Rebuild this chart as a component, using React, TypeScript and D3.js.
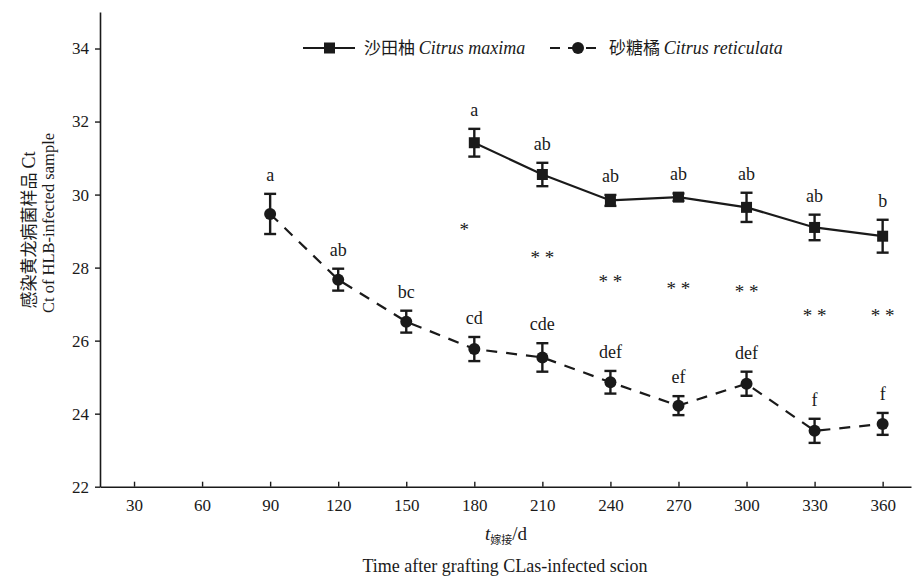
import React, { useEffect, useRef } from 'react';
import * as d3 from 'd3';

// days after grafting
const daysPomelo = [180, 210, 240, 270, 300, 330, 360];
const ctPomelo = [31.42, 30.55, 29.84, 29.93, 29.65, 29.1, 28.86];
const errPomelo = [0.38, 0.32, 0.15, 0.1, 0.4, 0.35, 0.45];
const letPomelo = ['a', 'ab', 'ab', 'ab', 'ab', 'ab', 'b'];

const daysMandarin = [90, 120, 150, 180, 210, 240, 270, 300, 330, 360];
const ctMandarin = [29.47, 27.67, 26.52, 25.77, 25.54, 24.86, 24.22, 24.82, 23.53, 23.72];
const errMandarin = [0.55, 0.3, 0.3, 0.33, 0.39, 0.31, 0.26, 0.33, 0.33, 0.3];
const letMandarin = ['a', 'ab', 'bc', 'cd', 'cde', 'def', 'ef', 'def', 'f', 'f'];

// significance marks between the two species
const starDays = [180, 210, 240, 270, 300, 330, 360];
const starMarks = ['*', '* *', '* *', '* *', '* *', '* *', '* *'];
const starCt = [29.14, 28.37, 27.72, 27.53, 27.44, 26.79, 26.79];

const xTicks = [30, 60, 90, 120, 150, 180, 210, 240, 270, 300, 330, 360];
const yTicks = [22, 24, 26, 28, 30, 32, 34];

const SERIF = '"Liberation Serif", "Times New Roman", serif';
const CJK = '"Noto Sans CJK SC", sans-serif';
const INK = '#1a1a1a';

export default function App() {
  const ref = useRef<SVGSVGElement | null>(null);

  useEffect(() => {
    const svg = d3.select(ref.current);
    svg.selectAll('*').remove();

    const x = d3.scaleLinear().domain([15, 372.5]).range([100, 911]);
    const y = d3.scaleLinear().domain([22, 35]).range([486.7, 12]);

    // axes
    const xAxis = svg
      .append('g')
      .attr('transform', `translate(0,${y(22)})`)
      .call(d3.axisBottom(x).tickValues(xTicks).tickSizeInner(-5).tickSizeOuter(0).tickPadding(12));
    xAxis.select('.domain').attr('stroke', INK).attr('stroke-width', 1.6);
    xAxis.selectAll('.tick line').attr('stroke', INK).attr('stroke-width', 1.4);
    xAxis.selectAll('.tick text').style('font-family', SERIF).style('font-size', '17px').attr('fill', INK);

    const yAxis = svg
      .append('g')
      .attr('transform', `translate(${x(15)},0)`)
      .call(d3.axisLeft(y).tickValues(yTicks).tickSizeInner(5).tickSizeOuter(0).tickPadding(6));
    yAxis.select('.domain').attr('stroke', INK).attr('stroke-width', 1.6);
    yAxis.selectAll('.tick line').attr('stroke', INK).attr('stroke-width', 1.4);
    yAxis.selectAll('.tick text').style('font-family', SERIF).style('font-size', '17px').attr('fill', INK);

    const drawSeries = (
      days: number[],
      vals: number[],
      errs: number[],
      letters: string[],
      dashed: boolean,
      square: boolean
    ) => {
      const g = svg.append('g');
      const line = d3
        .line<number>()
        .x((d, i) => x(days[i]))
        .y((d) => y(d));
      g.append('path')
        .datum(vals)
        .attr('d', line)
        .attr('fill', 'none')
        .attr('stroke', INK)
        .attr('stroke-width', 2.2)
        .attr('stroke-dasharray', dashed ? '11,9' : null);

      const cap = 6;
      vals.forEach((v, i) => {
        const cx = x(days[i]);
        const top = y(v + errs[i]);
        const bot = y(v - errs[i]);
        g.append('line').attr('x1', cx).attr('x2', cx).attr('y1', top).attr('y2', bot)
          .attr('stroke', INK).attr('stroke-width', 2.4);
        [top, bot].forEach((yy) =>
          g.append('line').attr('x1', cx - cap).attr('x2', cx + cap).attr('y1', yy).attr('y2', yy)
            .attr('stroke', INK).attr('stroke-width', 2.4)
        );
        if (square) {
          g.append('rect').attr('x', cx - 5.5).attr('y', y(v) - 5.5).attr('width', 11).attr('height', 11)
            .attr('fill', INK);
        } else {
          g.append('circle').attr('cx', cx).attr('cy', y(v)).attr('r', 6).attr('fill', INK);
        }
        g.append('text')
          .attr('x', cx)
          .attr('y', top - 13)
          .attr('text-anchor', 'middle')
          .style('font-family', SERIF)
          .style('font-size', '18px')
          .attr('fill', INK)
          .text(letters[i]);
      });
    };

    drawSeries(daysPomelo, ctPomelo, errPomelo, letPomelo, false, true);
    drawSeries(daysMandarin, ctMandarin, errMandarin, letMandarin, true, false);

    svg
      .append('g')
      .selectAll('text')
      .data(starDays)
      .join('text')
      .attr('x', (d, i) => x(d) + (starMarks[i] === '*' ? -10 : 0))
      .attr('y', (d, i) => y(starCt[i]) + 10)
      .attr('text-anchor', 'middle')
      .style('font-family', SERIF)
      .style('font-size', '19px')
      .style('white-space', 'pre')
      .attr('fill', INK)
      .text((d, i) => starMarks[i]);

    // legend
    const lg = svg.append('g');
    lg.append('line').attr('x1', 303).attr('x2', 355).attr('y1', 48).attr('y2', 48)
      .attr('stroke', INK).attr('stroke-width', 2.2);
    lg.append('rect').attr('x', 324).attr('y', 42.5).attr('width', 11).attr('height', 11).attr('fill', INK);
    const t1 = lg.append('text').attr('x', 364).attr('y', 54).style('font-size', '17px').attr('fill', INK);
    t1.append('tspan').style('font-family', CJK).text('沙田柚 ');
    t1.append('tspan').style('font-family', SERIF).style('font-style', 'italic').style('font-size', '18px').text('Citrus maxima');

    lg.append('line').attr('x1', 550).attr('x2', 602).attr('y1', 48).attr('y2', 48)
      .attr('stroke', INK).attr('stroke-width', 2.2).attr('stroke-dasharray', '10,8');
    lg.append('circle').attr('cx', 578).attr('cy', 48).attr('r', 6).attr('fill', INK);
    const t2 = lg.append('text').attr('x', 609).attr('y', 54).style('font-size', '17px').attr('fill', INK);
    t2.append('tspan').style('font-family', CJK).text('砂糖橘 ');
    t2.append('tspan').style('font-family', SERIF).style('font-style', 'italic').style('font-size', '18px').text('Citrus reticulata');

    // axis titles
    const yl1 = svg.append('text')
      .attr('transform', `translate(35,230) rotate(-90)`)
      .attr('text-anchor', 'middle')
      .style('font-size', '17px')
      .attr('fill', INK);
    yl1.append('tspan').style('font-family', CJK).text('感染黄龙病菌样品 ');
    yl1.append('tspan').style('font-family', SERIF).style('font-size', '18px').text('Ct');

    svg.append('text')
      .attr('transform', `translate(54,223) rotate(-90)`)
      .attr('text-anchor', 'middle')
      .style('font-family', SERIF)
      .style('font-size', '16.5px')
      .attr('fill', INK)
      .text('Ct of HLB-infected sample');

    const xl = svg.append('text')
      .attr('x', 506)
      .attr('y', 540)
      .attr('text-anchor', 'middle')
      .style('font-family', SERIF)
      .style('font-size', '19px')
      .attr('fill', INK);
    xl.append('tspan').style('font-style', 'italic').text('t');
    xl.append('tspan').style('font-family', CJK).style('font-size', '11px').attr('dy', 4).text('嫁接');
    xl.append('tspan').attr('dy', -4).text('/d');

    svg.append('text')
      .attr('x', 505)
      .attr('y', 572)
      .attr('text-anchor', 'middle')
      .style('font-family', SERIF)
      .style('font-size', '18px')
      .attr('fill', INK)
      .text('Time after grafting CLas-infected scion');
  }, []);

  return (
    <svg
      ref={ref}
      width={912}
      height={578}
      style={{ position: 'absolute', left: 0, top: 0, background: '#fff' }}
    />
  );
}
